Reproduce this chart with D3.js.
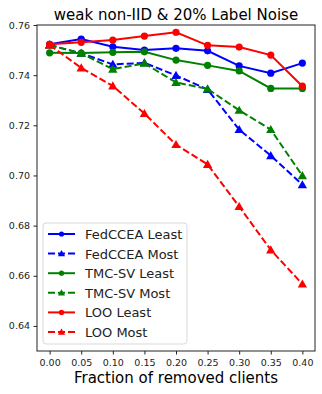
<!DOCTYPE html>
<meta charset="utf-8">
<head>
  <title>weak non-IID & 20% Label Noise</title>
</head>
<script src="https://d3js.org/d3.v7.min.js"></script>
<style>
  body { margin: 0; background: white; }
  text { font-family: "DejaVu Sans", sans-serif; }
</style>
<body>
  <div id="chart"></div>
</body>
<script>
  // fraction of removed clients
  var fractions = [0.00, 0.05, 0.10, 0.15, 0.20, 0.25, 0.30, 0.35, 0.40];
  var xTicks = [0.00, 0.05, 0.10, 0.15, 0.20, 0.25, 0.30, 0.35, 0.40];
  var yTicks = [0.64, 0.66, 0.68, 0.70, 0.72, 0.74, 0.76];

  var fedLeast = [0.7523, 0.7544, 0.7513, 0.7500, 0.7507, 0.7497, 0.7437, 0.7408, 0.7448];
  var fedMost  = [0.7520, 0.7487, 0.7443, 0.7449, 0.7399, 0.7343, 0.7183, 0.7079, 0.6963];
  var tmcLeast = [0.7489, 0.7488, 0.7491, 0.7493, 0.7460, 0.7439, 0.7417, 0.7347, 0.7347];
  var tmcMost  = [0.7520, 0.7487, 0.7424, 0.7447, 0.7371, 0.7345, 0.7260, 0.7183, 0.6999];
  var looLeast = [0.7523, 0.7531, 0.7540, 0.7556, 0.7571, 0.7519, 0.7512, 0.7480, 0.7356];
  var looMost  = [0.7520, 0.7429, 0.7357, 0.7247, 0.7123, 0.7044, 0.6876, 0.6703, 0.6567];

  var series = [
    { name: "FedCCEA Least", values: fedLeast, color: "#0000ff", dashed: false },
    { name: "FedCCEA Most", values: fedMost, color: "#0000ff", dashed: true },
    { name: "TMC-SV Least", values: tmcLeast, color: "#008000", dashed: false },
    { name: "TMC-SV Most", values: tmcMost, color: "#008000", dashed: true },
    { name: "LOO Least", values: looLeast, color: "#ff0000", dashed: false },
    { name: "LOO Most", values: looMost, color: "#ff0000", dashed: true }
  ];

  var margin = { top: 25, right: 7, bottom: 43, left: 37 },
    width = 322 - margin.left - margin.right,
    height = 394 - margin.top - margin.bottom;

  var svg = d3.select("#chart")
    .append("svg")
    .attr("width", 322)
    .attr("height", 394);

  // title
  svg.append("text")
    .attr("x", margin.left + width / 2)
    .attr("y", 20)
    .attr("text-anchor", "middle")
    .style("font-size", "15px")
    .text("weak non-IID & 20% Label Noise");

  var g = svg.append("g")
    .attr("transform", "translate(" + margin.left + "," + margin.top + ")");

  var x = d3.scaleLinear().domain([-0.02, 0.42]).range([0, width]);
  var y = d3.scaleLinear().domain([0.63, 0.76]).range([height, 0]);

  var xAxis = g.append("g")
    .attr("transform", "translate(0," + height + ")")
    .call(d3.axisBottom(x).tickValues(xTicks).tickFormat(d3.format(".2f")).tickSize(3.5).tickPadding(5));
  var yAxis = g.append("g")
    .call(d3.axisLeft(y).tickValues(yTicks).tickFormat(d3.format(".2f")).tickSize(3.5).tickPadding(3.5));
  [xAxis, yAxis].forEach(function (a) {
    a.select(".domain").remove();
    a.selectAll("text").style("font-size", "9.5px").attr("fill", "#222");
    a.selectAll("line").attr("stroke", "#222");
  });

  // frame
  g.append("rect")
    .attr("width", width)
    .attr("height", height)
    .attr("fill", "none")
    .attr("stroke", "#222")
    .attr("stroke-width", 1);

  var line = d3.line()
    .x(function (d, i) { return x(fractions[i]) })
    .y(function (d) { return y(d) });

  var tri = d3.symbol().type(d3.symbolTriangle).size(38);

  series.forEach(function (s) {
    g.append("path")
      .datum(s.values)
      .attr("d", line)
      .attr("fill", "none")
      .attr("stroke", s.color)
      .attr("stroke-width", 2)
      .attr("stroke-dasharray", s.dashed ? "7,3" : null);

    var pts = g.append("g").selectAll("mark")
      .data(s.values)
      .enter();
    if (s.dashed) {
      pts.append("path")
        .attr("d", tri)
        .attr("transform", function (d, i) { return "translate(" + x(fractions[i]) + "," + (y(d) + 0.8) + ")" })
        .attr("fill", s.color);
    } else {
      pts.append("circle")
        .attr("cx", function (d, i) { return x(fractions[i]) })
        .attr("cy", function (d) { return y(d) })
        .attr("r", 3.6)
        .attr("fill", s.color);
    }
  });

  // legend
  var legend = g.append("g")
    .attr("transform", "translate(" + 6 + "," + 198 + ")");
  legend.append("rect")
    .attr("width", 144)
    .attr("height", 121)
    .attr("rx", 3)
    .attr("fill", "white")
    .attr("fill-opacity", 0.8)
    .attr("stroke", "#d9d9d9");

  var rowH = 19.6;
  var smallTri = d3.symbol().type(d3.symbolTriangle).size(22);
  series.forEach(function (s, i) {
    var row = legend.append("g")
      .attr("transform", "translate(0," + (11 + i * rowH) + ")");
    row.append("line")
      .attr("x1", 5).attr("x2", 32)
      .attr("stroke", s.color)
      .attr("stroke-width", 2)
      .attr("stroke-dasharray", s.dashed ? "7,3" : null);
    if (s.dashed) {
      row.append("path").attr("d", smallTri)
        .attr("transform", "translate(18.5,0.6)")
        .attr("fill", s.color);
    } else {
      row.append("circle").attr("cx", 18.5).attr("r", 2.6).attr("fill", s.color);
    }
    row.append("text")
      .attr("x", 42)
      .attr("y", 5)
      .style("font-size", "13px")
      .attr("fill", "#222")
      .text(s.name);
  });

  // x label
  svg.append("text")
    .attr("x", margin.left + width / 2)
    .attr("y", 383)
    .attr("text-anchor", "middle")
    .style("font-size", "15px")
    .text("Fraction of removed clients");
</script>
